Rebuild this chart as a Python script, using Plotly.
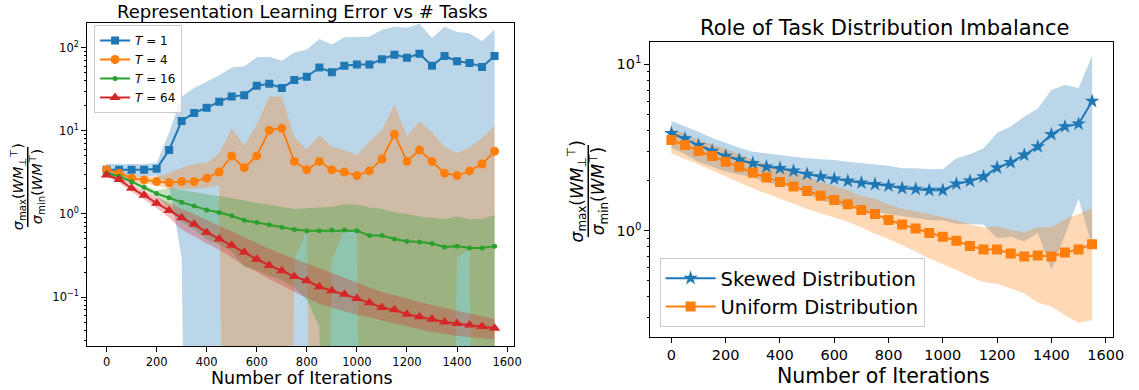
import plotly.graph_objects as go

# ---------------- data ----------------
ITERS = [0, 50, 100, 150, 200, 250, 300, 350, 400, 450, 500, 550, 600, 650, 700, 750,
         800, 850, 900, 950, 1000, 1050, 1100, 1150, 1200, 1250, 1300, 1350, 1400, 1450, 1500, 1550]

# Left panel: representation learning error for several task counts T
T_LABELS = ["<i>T</i> = 1", "<i>T</i> = 4", "<i>T</i> = 16", "<i>T</i> = 64"]

T1_mean = [3.4, 3.4, 3.4, 3.4, 3.5, 5.9, 13.2, 16.5, 19, 22.5, 26, 27, 35, 37, 33, 41,
           45, 58, 51, 61, 63, 63, 73, 83, 76, 85, 61, 80, 69, 66, 59, 80]
T1_upper = [4.0, 4.0, 4.0, 4.0, 4.1, 9.6, 26, 33, 39, 47, 58, 60, 77, 78, 70, 88,
            96, 128, 110, 134, 135, 136, 165, 180, 175, 195, 132, 180, 155, 150, 120, 168]
T1_lower = [2.8, 2.8, 2.8, 2.8, 2.9, 2.2, 0.3, None, None, None, None, None, None, None, None, None,
            None, None, None, None, None, None, None, None, None, None, None, None, None, None, None, None]

T4_mean = [3.4, 3.1, 2.7, 2.57, 2.46, 2.38, 2.46, 2.46, 2.7, 3.2, 5.0, 3.6, 5.0, 10.2, 10.8, 4.3,
           3.4, 4.3, 3.4, 3.2, 2.9, 3.3, 4.6, 9.1, 4.3, 5.9, 4.3, 3.1, 2.9, 3.3, 4.0, 5.7]
T4_upper = [3.6, 3.3, 2.95, 2.85, 2.85, 3.1, 3.6, 4.0, 4.1, 5.4, 10.7, 6.7, 11.8, 26, 26, 8.5,
            6.0, 8.9, 6.5, 5.9, 5.1, 7.4, 10.3, 20.5, 8.7, 12.9, 9.6, 6.5, 5.4, 6.3, 8.2, 11.5]
T4_lower = [3.2, 2.9, 2.5, 2.35, 2.2, 2.0, 2.0, 2.0, 2.05, 2.2, None, None, None, None, None, 0.28,
            0.64, None, 0.28, 0.64, 0.64, None, None, None, None, None, None, None, 0.30, 0.37, None, None]

T16_mean = [3.1, 2.85, 2.45, 2.1, 1.76, 1.57, 1.38, 1.25, 1.12, 1.04, 0.95, 0.84, 0.79, 0.74, 0.69, 0.65,
            0.63, 0.63, 0.64, 0.64, 0.63, 0.55, 0.55, 0.50, 0.47, 0.46, 0.44, 0.40, 0.41, 0.39, 0.39, 0.41]
T16_upper = [3.25, 3.0, 2.6, 2.25, 1.9, 2.05, 1.95, 1.85, 1.75, 1.65, 1.55, 1.45, 1.37, 1.3, 1.22, 1.15,
             1.17, 1.2, 1.22, 1.3, 1.3, 1.2, 1.15, 1.05, 1.0, 0.93, 0.9, 0.87, 0.93, 0.87, 0.87, 0.97]
T16_lower = [2.95, 2.7, 2.3, 1.95, 1.62, 1.09, 0.81, 0.65, 0.49, 0.43, 0.35, 0.23, 0.21, 0.18, 0.16, 0.13,
             0.092, 0.044, None, None, None, None, None, None, None, None, None, None, None, None, None, None]

T64_mean = [2.95, 2.6, 2.04, 1.68, 1.35, 1.10, 0.90, 0.75, 0.60, 0.50, 0.42, 0.345, 0.285, 0.24, 0.207, 0.176,
            0.157, 0.133, 0.119, 0.108, 0.096, 0.085, 0.075, 0.070, 0.062, 0.058, 0.054, 0.050, 0.048, 0.046, 0.044, 0.042]
T64_upper = [3.1, 2.8, 2.25, 1.9, 1.6, 1.35, 1.15, 1.0, 0.85, 0.72, 0.62, 0.52, 0.44, 0.38, 0.33, 0.29,
             0.255, 0.22, 0.195, 0.17, 0.15, 0.13, 0.115, 0.105, 0.095, 0.087, 0.08, 0.074, 0.068, 0.063, 0.058, 0.054]
T64_lower = [2.8, 2.4, 1.85, 1.5, 1.18, 0.9, 0.65, 0.53, 0.44, 0.37, 0.30, 0.24, 0.20, 0.165, 0.14, 0.115,
             0.097, 0.083, 0.074, 0.067, 0.061, 0.057, 0.052, 0.048, 0.044, 0.041, 0.038, 0.036, 0.034, 0.033, 0.032, 0.031]

# Right panel: task distribution imbalance
DIST_LABELS = ["Skewed Distribution", "Uniform Distribution"]
skew_mean = [3.85, 3.57, 3.26, 3.01, 2.81, 2.66, 2.54, 2.42, 2.37, 2.29, 2.19, 2.11, 2.05, 1.99, 1.94, 1.90,
             1.86, 1.80, 1.78, 1.75, 1.75, 1.91, 1.99, 2.11, 2.39, 2.57, 2.85, 3.2, 3.79, 4.22, 4.38, 6.0]
skew_upper = [4.56, 4.25, 3.93, 3.6, 3.35, 3.15, 2.98, 2.9, 2.85, 2.78, 2.72, 2.69, 2.66, 2.6, 2.54, 2.5,
              2.46, 2.37, 2.37, 2.34, 2.35, 2.72, 2.88, 3.13, 3.88, 4.22, 4.84, 5.43, 7.0, 7.5, 7.2, 11.2]
skew_lower = [3.14, 2.89, 2.59, 2.42, 2.27, 2.17, 2.1, 1.94, 1.89, 1.8, 1.66, 1.53, 1.44, 1.38, 1.34, 1.3,
              1.26, 1.23, 1.19, 1.16, 1.15, 1.1, 1.1, 1.09, 0.9, 0.92, 0.86, 0.97, 0.58, 0.94, 1.56, 0.8]
unif_mean = [3.51, 3.27, 3.01, 2.81, 2.60, 2.42, 2.23, 2.09, 1.96, 1.84, 1.73, 1.62, 1.53, 1.44, 1.33, 1.26,
             1.16, 1.09, 1.03, 0.97, 0.92, 0.87, 0.81, 0.77, 0.77, 0.73, 0.70, 0.71, 0.70, 0.74, 0.77, 0.83]
unif_upper = [4.1, 3.84, 3.52, 3.32, 3.1, 2.89, 2.66, 2.51, 2.37, 2.23, 2.11, 1.97, 1.86, 1.75, 1.61, 1.56,
              1.43, 1.36, 1.31, 1.26, 1.21, 1.16, 1.09, 1.05, 1.06, 1.01, 0.98, 1.05, 1.05, 1.17, 1.26, 1.37]
unif_lower = [2.92, 2.7, 2.5, 2.3, 2.1, 1.95, 1.8, 1.67, 1.55, 1.45, 1.35, 1.27, 1.2, 1.13, 1.05, 0.96,
              0.89, 0.82, 0.75, 0.68, 0.63, 0.58, 0.53, 0.49, 0.48, 0.45, 0.42, 0.37, 0.35, 0.31, 0.28, 0.29]

X_TICKS = [0, 200, 400, 600, 800, 1000, 1200, 1400, 1600]

# ---------------- styling ----------------
FONT = "DejaVu Sans"
W, H = 1139, 390
BLUE, ORANGE, GREEN, RED = "#1f77b4", "#ff7f0e", "#2ca02c", "#d62728"
FILLS = {BLUE: "rgba(31,119,180,0.3)", ORANGE: "rgba(255,127,14,0.3)",
         GREEN: "rgba(44,160,44,0.3)", RED: "rgba(214,39,40,0.3)"}
CLIP = 1e-12  # non-positive lower bounds are clipped (as matplotlib does on log axes)


def band(x, up, lo, color, xa, ya):
    lo2 = [CLIP if v is None else v for v in lo]
    return go.Scatter(x=list(x) + list(x)[::-1], y=list(up) + lo2[::-1], mode="lines",
                      fill="toself", fillcolor=FILLS[color], line=dict(width=0, color=FILLS[color]),
                      hoverinfo="skip", showlegend=False, xaxis=xa, yaxis=ya)


fig = go.Figure()

left_series = [
    (T1_mean, T1_upper, T1_lower, BLUE, "square", 8),
    (T4_mean, T4_upper, T4_lower, ORANGE, "circle", 9),
    (T16_mean, T16_upper, T16_lower, GREEN, "circle", 5),
    (T64_mean, T64_upper, T64_lower, RED, "triangle-up", 10),
]
for m, u, l, c, sym, sz in left_series:
    fig.add_trace(band(ITERS, u, l, c, "x", "y"))
for (m, u, l, c, sym, sz), name in zip(left_series, T_LABELS):
    fig.add_trace(go.Scatter(x=ITERS, y=m, mode="lines+markers", name=name,
                             line=dict(color=c, width=2),
                             marker=dict(symbol=sym, size=sz, color=c, line=dict(width=0)),
                             xaxis="x", yaxis="y", legend="legend"))

right_series = [
    (skew_mean, skew_upper, skew_lower, BLUE, "star", 11),
    (unif_mean, unif_upper, unif_lower, ORANGE, "square", 10),
]
for m, u, l, c, sym, sz in right_series:
    fig.add_trace(band(ITERS, u, l, c, "x2", "y2"))
for (m, u, l, c, sym, sz), name in zip(right_series, DIST_LABELS):
    fig.add_trace(go.Scatter(x=ITERS, y=m, mode="lines+markers", name=name,
                             line=dict(color=c, width=2),
                             marker=dict(symbol=sym, size=sz, color=c, line=dict(width=0)),
                             xaxis="x2", yaxis="y2", legend="legend2"))

minor_vals = [k * 10 ** e for e in range(-3, 3) for k in range(2, 10)]


def xax(domain, anchor, fs):
    return dict(domain=domain, anchor=anchor, range=[-77.5, 1627.5], tickvals=X_TICKS,
                showline=True, mirror=True, linecolor="black", linewidth=1,
                ticks="outside", ticklen=5, tickwidth=1, tickcolor="black",
                showgrid=False, zeroline=False, tickfont=dict(family=FONT, size=fs, color="black"))


def yax(domain, anchor, rng, fs):
    return dict(domain=domain, anchor=anchor, type="log", range=rng,
                tickvals=[0.1, 1, 10, 100],
                ticktext=["10<sup>−1</sup>", "10<sup>0</sup>", "10<sup>1</sup>", "10<sup>2</sup>"],
                showline=True, mirror=True, linecolor="black", linewidth=1,
                ticks="outside", ticklen=5, tickwidth=1, tickcolor="black",
                minor=dict(ticks="outside", ticklen=2.5, tickwidth=0.8, tickcolor="black",
                           tickvals=minor_vals, showgrid=False),
                showgrid=False, zeroline=False, tickfont=dict(family=FONT, size=fs, color="black"))


def px_x(p):
    return p / W


def px_y(p):
    return 1 - p / H


fig.update_layout(
    width=W, height=H, margin=dict(l=0, r=0, t=0, b=0),
    paper_bgcolor="white", plot_bgcolor="white",
    font=dict(family=FONT, color="black"),
    xaxis=xax([px_x(88), px_x(519)], "y", 11.5),
    yaxis=yax([px_y(346), px_y(23)], "x", [-1.59, 2.30], 11.5),
    xaxis2=xax([px_x(656.7), px_x(1124)], "y2", 14.5),
    yaxis2=yax([px_y(336.7), px_y(42.3)], "x2", [-0.637, 1.132], 14.5),
    legend=dict(x=px_x(95), y=px_y(25), xanchor="left", yanchor="top",
                bgcolor="rgba(255,255,255,0.8)", bordercolor="#cccccc", borderwidth=1,
                font=dict(family=FONT, size=12, color="black"), tracegroupgap=0, itemwidth=30),
    legend2=dict(x=px_x(666), y=px_y(327), xanchor="left", yanchor="bottom",
                 bgcolor="rgba(255,255,255,0.8)", bordercolor="#cccccc", borderwidth=1,
                 font=dict(family=FONT, size=19.5, color="black"), tracegroupgap=0, itemwidth=50),
)

annos = [
    dict(text="Representation Learning Error vs # Tasks", x=px_x(305), y=px_y(11), size=18),
    dict(text="Role of Task Distribution Imbalance", x=px_x(893), y=px_y(28.5), size=21),
    dict(text="Number of Iterations", x=px_x(304.5), y=px_y(378), size=17.5),
    dict(text="Number of Iterations", x=px_x(892), y=px_y(375.5), size=20.5),
]
for a in annos:
    fig.add_annotation(text=a["text"], x=a["x"], y=a["y"], xref="paper", yref="paper",
                       xanchor="center", yanchor="middle", showarrow=False,
                       font=dict(family=FONT, size=a["size"], color="black"))

NUM = "<i>σ</i><sub>max</sub>(<i>WM</i><sub>⊥</sub><sup>⊤</sup>)"
DEN = "<i>σ</i><sub>min</sub>(<i>WM</i><sup>⊤</sup>)"
for num_x, den_x, cy, bar_x, y0, y1, fs in [(18.5, 37.5, 187, 28, 147, 227, 14.5),
                                            (582, 604, 191, 594, 145, 237, 17)]:
    fig.add_annotation(text=NUM, x=px_x(num_x), y=px_y(cy), xref="paper", yref="paper",
                       textangle=-90, showarrow=False, xanchor="center", yanchor="middle",
                       font=dict(family=FONT, size=fs, color="black"))
    fig.add_annotation(text=DEN, x=px_x(den_x), y=px_y(cy), xref="paper", yref="paper",
                       textangle=-90, showarrow=False, xanchor="center", yanchor="middle",
                       font=dict(family=FONT, size=fs, color="black"))
    fig.add_shape(type="line", xref="paper", yref="paper", x0=px_x(bar_x), x1=px_x(bar_x),
                  y0=px_y(y0), y1=px_y(y1), line=dict(color="black", width=1.5))

fig.write_html("out.html", config={"displayModeBar": False},
               post_script="document.body.style.margin='0px';")
